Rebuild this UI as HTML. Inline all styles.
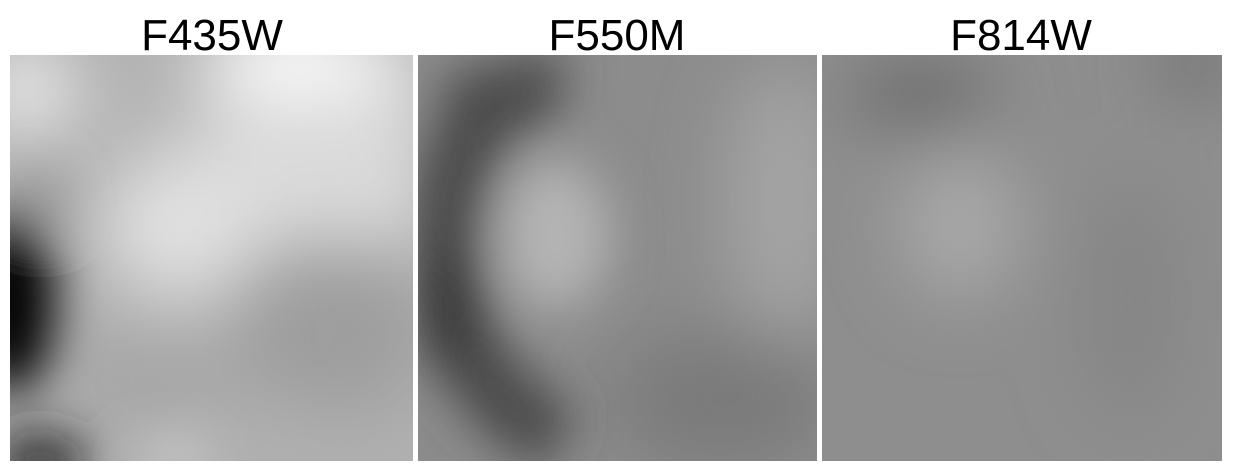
<!DOCTYPE html>
<html><head><meta charset="utf-8"><style>
html,body{margin:0;padding:0;background:#fff;width:1238px;height:472px;overflow:hidden}
svg{display:block}
text{font-family:"Liberation Sans",Arial,sans-serif;font-size:44px;fill:#000}
</style></head><body>
<svg width="1238" height="472">
<defs>
<filter id="b1" x="-50%" y="-50%" width="200%" height="200%"><feGaussianBlur stdDeviation="35"/></filter>
<filter id="b2" x="-50%" y="-50%" width="200%" height="200%"><feGaussianBlur stdDeviation="24"/></filter>
<clipPath id="c1"><rect x="10" y="55" width="403" height="406"/></clipPath>
<clipPath id="c2"><rect x="418" y="55" width="399" height="406"/></clipPath>
<clipPath id="c3"><rect x="822" y="55" width="400" height="406"/></clipPath>
</defs>
<text x="212" y="50" text-anchor="middle">F435W</text>
<text x="617" y="50" text-anchor="middle">F550M</text>
<text x="1021" y="50" text-anchor="middle">F814W</text>

<g clip-path="url(#c1)">
<rect x="10" y="55" width="403" height="406" fill="#b0b0b0"/>
<g filter="url(#b1)">
<rect x="200" y="40" width="230" height="200" fill="#dadada"/>
<ellipse cx="300" cy="55" rx="90" ry="40" fill="#fcfcfc"/>
<ellipse cx="25" cy="90" rx="45" ry="50" fill="#ededed"/>
<ellipse cx="145" cy="100" rx="70" ry="40" fill="#b6b6b6"/>
<ellipse cx="180" cy="225" rx="80" ry="75" fill="#e0e0e0"/>
<ellipse cx="330" cy="330" rx="100" ry="90" fill="#9e9e9e"/>
<ellipse cx="140" cy="380" rx="90" ry="45" fill="#a6a6a6"/>
<ellipse cx="290" cy="435" rx="60" ry="30" fill="#b0b0b0"/>
</g>
<g filter="url(#b2)">
<ellipse cx="10" cy="300" rx="45" ry="95" fill="#000"/>
<ellipse cx="40" cy="200" rx="25" ry="30" fill="#999"/>
<ellipse cx="40" cy="460" rx="50" ry="25" fill="#222"/>
<ellipse cx="175" cy="455" rx="35" ry="15" fill="#d2d2d2"/>
</g>
</g>

<g clip-path="url(#c2)">
<rect x="418" y="55" width="399" height="406" fill="#8c8c8c"/>
<g filter="url(#b1)">
<ellipse cx="785" cy="200" rx="60" ry="140" fill="#a4a4a4"/>
<ellipse cx="720" cy="400" rx="110" ry="70" fill="#7a7a7a"/>
</g>
<g filter="url(#b2)">
<path d="M560,90 C500,80 450,130 445,240 C442,340 490,405 560,440" stroke="#4a4a4a" stroke-width="70" fill="none"/>
<ellipse cx="495" cy="95" rx="55" ry="30" fill="#4c4c4c"/>
<ellipse cx="445" cy="310" rx="30" ry="60" fill="#383838"/>
<ellipse cx="555" cy="235" rx="55" ry="75" fill="#b4b4b4"/>
</g>
</g>

<g clip-path="url(#c3)">
<rect x="822" y="55" width="400" height="406" fill="#8e8e8e"/>
<g filter="url(#b1)">
<ellipse cx="960" cy="225" rx="60" ry="75" fill="#a8a8a8"/>
<ellipse cx="920" cy="95" rx="75" ry="35" fill="#6c6c6c"/>
<ellipse cx="1195" cy="65" rx="40" ry="25" fill="#686868"/>
<ellipse cx="1130" cy="300" rx="50" ry="120" fill="#858585"/>
</g>
</g>
<rect x="414" y="55" width="3" height="406" fill="#fff"/>
<rect x="818" y="55" width="3" height="406" fill="#fff"/>
</svg>
</body></html>
